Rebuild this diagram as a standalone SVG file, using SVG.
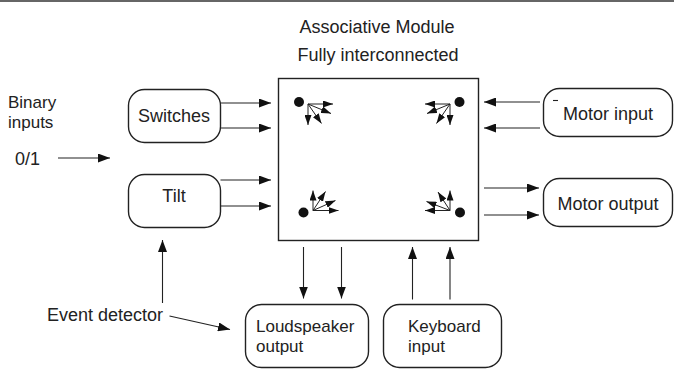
<svg xmlns="http://www.w3.org/2000/svg" width="674" height="377" viewBox="0 0 674 377">
<style>
.t{font-family:"Liberation Sans",Arial,sans-serif;font-size:18px;fill:#222}
.s{font-size:17px}
.c{text-anchor:middle}
.box{fill:#fff;stroke:#222;stroke-width:1.4}
.ln{stroke:#222;stroke-width:1.1;fill:none}
.con{marker-end:url(#ah)}
.fan{stroke:#222;stroke-width:1;fill:none;marker-end:url(#fh)}
</style>
<defs>
<marker id="ah" markerUnits="userSpaceOnUse" markerWidth="12" markerHeight="9" refX="12" refY="4.5" orient="auto"><path d="M0,0 L12,4.5 L0,9 z" fill="#111"/></marker>
<marker id="fh" markerUnits="userSpaceOnUse" markerWidth="10" markerHeight="7" refX="10" refY="3.5" orient="auto"><path d="M0,0 L10,3.5 L0,7 z" fill="#111"/></marker>
</defs>
<rect width="674" height="377" fill="#fff"/>
<line x1="0" y1="1" x2="674" y2="1" stroke="#666" stroke-width="2"/>

<g id="module">
<rect class="box" x="278.5" y="78.5" width="200" height="162"/>
<text class="t c" x="377" y="33">Associative Module</text>
<text class="t c" x="378" y="61">Fully interconnected</text>
<g id="fan-tl">
<circle cx="299" cy="102" r="5" fill="#111"/>
<line class="fan" x1="308" y1="104" x2="333" y2="104"/>
<line class="fan" x1="308" y1="104" x2="331" y2="113.5"/>
<line class="fan" x1="308" y1="104" x2="321.5" y2="123.5"/>
<line class="fan" x1="308" y1="104" x2="308" y2="125"/>
</g>
<g id="fan-tr">
<circle cx="459.5" cy="102" r="5" fill="#111"/>
<line class="fan" x1="450" y1="104" x2="425" y2="104"/>
<line class="fan" x1="450" y1="104" x2="427" y2="113.5"/>
<line class="fan" x1="450" y1="104" x2="436.5" y2="123.5"/>
<line class="fan" x1="450" y1="104" x2="450" y2="125"/>
</g>
<g id="fan-bl">
<circle cx="303.5" cy="212.5" r="5" fill="#111"/>
<line class="fan" x1="313" y1="210.5" x2="313" y2="190.5"/>
<line class="fan" x1="313" y1="210.5" x2="325.5" y2="191.5"/>
<line class="fan" x1="313" y1="210.5" x2="335.5" y2="200.5"/>
<line class="fan" x1="313" y1="210.5" x2="338.5" y2="210.5"/>
</g>
<g id="fan-br">
<circle cx="460" cy="212.5" r="5" fill="#111"/>
<line class="fan" x1="450" y1="210.5" x2="450" y2="190.5"/>
<line class="fan" x1="450" y1="210.5" x2="438" y2="192"/>
<line class="fan" x1="450" y1="210.5" x2="426.5" y2="201.5"/>
<line class="fan" x1="450" y1="210.5" x2="425" y2="210.5"/>
</g>
</g>

<g id="switches">
<rect class="box" x="128.5" y="89.5" width="92" height="53" rx="16"/>
<text class="t c" x="174" y="122">Switches</text>
</g>
<g id="tilt">
<rect class="box" x="128.5" y="174.5" width="92" height="53" rx="16"/>
<text class="t c" x="174" y="202">Tilt</text>
</g>
<g id="motor-input">
<rect class="box" x="543.5" y="88.5" width="129" height="48" rx="16"/>
<text class="t c" x="608" y="119.5">Motor input</text>
</g>
<g id="motor-output">
<rect class="box" x="543.5" y="178.5" width="129" height="48" rx="16"/>
<text class="t c" x="608" y="209.5">Motor output</text>
</g>
<g id="loudspeaker">
<rect class="box" x="245.5" y="304.5" width="123" height="63" rx="16"/>
<text class="t s" x="256" y="331.5">Loudspeaker</text>
<text class="t s" x="256" y="351.5">output</text>
</g>
<g id="keyboard">
<rect class="box" x="383.5" y="304.5" width="118" height="63" rx="16"/>
<text class="t s" x="408" y="331.5">Keyboard</text>
<text class="t s" x="408" y="351.5">input</text>
</g>
<g id="labels">
<text class="t s" x="8" y="107.5">Binary</text>
<text class="t s" x="8" y="127.5">inputs</text>
<text class="t" x="15" y="165">0/1</text>
<text class="t" x="47" y="321">Event detector</text>
</g>

<g id="connectors">
<line class="ln con" x1="58" y1="158" x2="110" y2="158"/>
<line class="ln con" x1="220.5" y1="103" x2="271" y2="103"/>
<line class="ln con" x1="220.5" y1="128" x2="271" y2="128"/>
<line class="ln con" x1="220.5" y1="180" x2="271" y2="180"/>
<line class="ln con" x1="220.5" y1="206" x2="271" y2="206"/>
<line class="ln con" x1="540" y1="102" x2="484" y2="102"/>
<line class="ln con" x1="540" y1="128" x2="484" y2="128"/>
<line class="ln" x1="553" y1="100.5" x2="558" y2="100.5"/>
<line class="ln con" x1="484" y1="188" x2="539" y2="188"/>
<line class="ln con" x1="484" y1="215" x2="539" y2="215"/>
<line class="ln con" x1="303.5" y1="247" x2="303.5" y2="298.5"/>
<line class="ln con" x1="341.5" y1="247" x2="341.5" y2="298.5"/>
<line class="ln con" x1="412.5" y1="299.5" x2="412.5" y2="247"/>
<line class="ln con" x1="450" y1="299.5" x2="450" y2="247"/>
<line class="ln con" x1="162.5" y1="303" x2="162.5" y2="240"/>
<line class="ln con" x1="169.5" y1="316" x2="230" y2="329.5"/>
</g>
</svg>
